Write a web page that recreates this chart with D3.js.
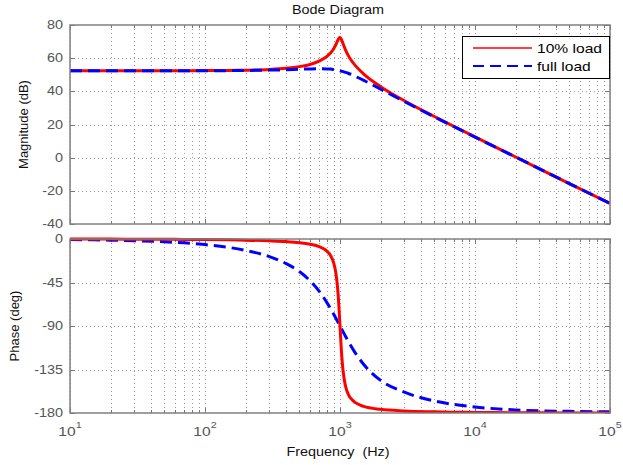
<!DOCTYPE html>
<html>
<head>
<meta charset="utf-8">
<script src="https://cdn.jsdelivr.net/npm/d3@7/dist/d3.min.js"></script>
<style>
  body { margin: 0; background: #fff; }
  text { font-family: "Liberation Sans", Arial, sans-serif; }
</style>
</head>
<body>
<div id="chart"></div>
<script>
var width = 623;
var height = 465;

// frequency points (Hz)
var freq = [10, 15, 20, 30, 50, 70, 100, 150, 200, 300, 400, 500, 600, 700, 800, 850, 900, 930, 960, 980,
            1000, 1020, 1040, 1070, 1100, 1150, 1200, 1300, 1500, 2000, 3000, 5000, 7000, 10000, 20000, 50000, 100000];

// magnitude (dB)
var mag10 = [52.4, 52.4, 52.4, 52.4, 52.4, 52.4, 52.5, 52.6, 52.75, 53.2, 53.9, 54.9, 56.2, 58.2, 61.1, 63.1, 65.9, 68.1, 70.5, 71.9,
             72.4, 71.6, 70.0, 67.3, 64.9, 61.7, 59.2, 55.5, 50.4, 42.8, 34.3, 24.8, 18.8, 12.5, 0.4, -15.6, -27.6];
var magFull = [52.4, 52.4, 52.4, 52.4, 52.4, 52.4, 52.4, 52.5, 52.6, 52.8, 53.0, 53.3, 53.5, 53.6, 53.5, 53.4, 53.1, 52.9, 52.7, 52.6,
               52.4, 52.2, 52.0, 51.7, 51.4, 50.9, 50.3, 49.0, 46.6, 41.3, 33.8, 24.6, 18.7, 12.4, 0.4, -15.6, -27.6];

// phase (deg)
var phase10 = [0, -0.1, -0.1, -0.2, -0.3, -0.4, -0.6, -0.9, -1.2, -1.9, -2.7, -3.8, -5.4, -7.8, -12.5, -17.0, -25.3, -34.5, -50.8, -68.0,
               -90, -111.6, -128.1, -143.6, -152.4, -160.4, -164.7, -169.3, -173.2, -176.2, -177.9, -178.8, -179.2, -179.4, -179.7, -179.9, -180];
var phaseFull = [-0.6, -0.9, -1.2, -1.7, -2.9, -4.0, -5.8, -8.7, -11.8, -18.2, -25.5, -33.7, -43.2, -53.9, -65.8, -71.9, -78.1, -81.7, -85.3, -87.7,
                 -90, -92.3, -94.5, -97.7, -100.8, -105.7, -110.1, -118.0, -129.8, -146.3, -158.5, -167.5, -171.2, -173.8, -176.8, -178.3, -178.8];

var magTicks = [-40, -20, 0, 20, 40, 60, 80];
var phaseTicks = [-180, -135, -90, -45, 0];
var decades = [1, 2, 3, 4, 5];
var seriesNames = ["10% load", "full load"];

var left = 70, right = 610;
var magTop = 25, magBottom = 224;
var phTop = 239, phBottom = 413;
var stretch = 1.2; // the picture's text is a bit wider than the font

var svg = d3.select("#chart").append("svg")
    .attr("width", width)
    .attr("height", height);

svg.append("rect").attr("width", width).attr("height", height).attr("fill", "#fff");

var x = d3.scaleLog().domain([10, 1e5]).range([left, right]);
var yMag = d3.scaleLinear().domain([-40, 80]).range([magBottom, magTop]);
var yPh = d3.scaleLinear().domain([-180, 0]).range([phBottom, phTop]);

// text helper, widened horizontally
function label(px, py, str, anchor, size, color) {
  return svg.append("text")
    .attr("transform", "translate(" + px + "," + py + ") scale(" + stretch + ",1)")
    .attr("text-anchor", anchor)
    .attr("font-size", size)
    .attr("fill", color)
    .attr("xml:space", "preserve")
    .text(str);
}

// all log tick positions (major + minor)
var xTicksAll = x.ticks(40);

function panel(y, yTicks, top, bottom) {
  var g = svg.append("g");
  g.append("rect").attr("x", left).attr("y", top)
    .attr("width", right - left).attr("height", bottom - top).attr("fill", "#fff");

  // dotted grid
  g.selectAll(".vg").data(xTicksAll).enter().append("line")
    .attr("x1", function(d) { return Math.round(x(d)) + 0.5; })
    .attr("x2", function(d) { return Math.round(x(d)) + 0.5; })
    .attr("y1", top).attr("y2", bottom)
    .attr("stroke", "#999").attr("stroke-width", 1).attr("stroke-dasharray", "1,3");
  g.selectAll(".hg").data(yTicks.slice(1, -1)).enter().append("line")
    .attr("x1", left).attr("x2", right)
    .attr("y1", function(d) { return Math.round(y(d)) + 0.5; })
    .attr("y2", function(d) { return Math.round(y(d)) + 0.5; })
    .attr("stroke", "#999").attr("stroke-width", 1).attr("stroke-dasharray", "1,3");

  // ticks on every side, pointing in
  xTicksAll.forEach(function(d) {
    var major = Math.abs(Math.log10(d) % 1) < 1e-9;
    var len = major ? 5 : 3;
    var xx = Math.round(x(d)) + 0.5;
    g.append("line").attr("x1", xx).attr("x2", xx).attr("y1", bottom).attr("y2", bottom - len)
      .attr("stroke", "#777");
    g.append("line").attr("x1", xx).attr("x2", xx).attr("y1", top).attr("y2", top + len)
      .attr("stroke", "#777");
  });
  yTicks.forEach(function(d) {
    var yy = Math.round(y(d)) + 0.5;
    g.append("line").attr("x1", left).attr("x2", left + 5).attr("y1", yy).attr("y2", yy).attr("stroke", "#777");
    g.append("line").attr("x1", right).attr("x2", right - 5).attr("y1", yy).attr("y2", yy).attr("stroke", "#777");
    label(left - 7, y(d) + 4, d, "end", 12, "#555");
  });
}

function frame(top, bottom) {
  svg.append("rect").attr("x", left).attr("y", top)
    .attr("width", right - left).attr("height", bottom - top)
    .attr("fill", "none").attr("stroke", "#808080").attr("stroke-width", 1.5);
}

panel(yMag, magTicks, magTop, magBottom);
panel(yPh, phaseTicks, phTop, phBottom);

// curves
var magLine = d3.line().curve(d3.curveMonotoneX)
    .x(function(d, i) { return x(freq[i]); }).y(function(d) { return yMag(d); });
var phLine = d3.line().curve(d3.curveMonotoneX)
    .x(function(d, i) { return x(freq[i]); }).y(function(d) { return yPh(d); });

svg.append("clipPath").attr("id", "cm").append("rect")
    .attr("x", left).attr("y", magTop).attr("width", right - left).attr("height", magBottom - magTop);
svg.append("clipPath").attr("id", "cp").append("rect")
    .attr("x", left).attr("y", phTop - 2).attr("width", right - left).attr("height", phBottom - phTop + 2);

var gm = svg.append("g").attr("clip-path", "url(#cm)");
gm.append("path").attr("d", magLine(mag10))
  .attr("fill", "none").attr("stroke", "#f00").attr("stroke-width", 3).attr("stroke-linejoin", "round");
gm.append("path").attr("d", magLine(magFull))
  .attr("fill", "none").attr("stroke", "#00f").attr("stroke-width", 3).attr("stroke-dasharray", "12,6");

var gp = svg.append("g").attr("clip-path", "url(#cp)");
gp.append("path").attr("d", phLine(phaseFull))
  .attr("fill", "none").attr("stroke", "#00f").attr("stroke-width", 3).attr("stroke-dasharray", "12,6");
gp.append("path").attr("d", phLine(phase10))
  .attr("fill", "none").attr("stroke", "#f00").attr("stroke-width", 3).attr("stroke-linejoin", "round");

frame(magTop, magBottom);
frame(phTop, phBottom);

// x tick labels 10^n
decades.forEach(function(d) {
  var t = label(x(Math.pow(10, d)), 436, "", "middle", 13, "#555");
  t.append("tspan").text("10");
  t.append("tspan").attr("dy", -8).attr("font-size", 9).text(d);
});

// titles
label(338, 14, "Bode Diagram", "middle", 12, "#111");
label(338, 456, "Frequency  (Hz)", "middle", 12, "#111");
svg.append("text").attr("transform", "translate(28," + ((magTop + magBottom) / 2) + ") rotate(-90)")
  .attr("text-anchor", "middle").attr("font-size", 13).attr("fill", "#111").text("Magnitude (dB)");
svg.append("text").attr("transform", "translate(19," + ((phTop + phBottom) / 2) + ") rotate(-90)")
  .attr("text-anchor", "middle").attr("font-size", 13).attr("fill", "#111").text("Phase (deg)");

// legend
var lg = svg.append("g");
lg.append("rect").attr("x", 462.5).attr("y", 36.5).attr("width", 147).attr("height", 42)
  .attr("fill", "#fff").attr("stroke", "#000").attr("stroke-width", 1);
lg.selectAll(".li").data(seriesNames).enter().append("line")
  .attr("x1", 473).attr("x2", 532)
  .attr("y1", function(d, i) { return 48 + i * 18; })
  .attr("y2", function(d, i) { return 48 + i * 18; })
  .attr("stroke", function(d, i) { return i === 0 ? "#f00" : "#00f"; })
  .attr("stroke-width", function(d, i) { return i === 0 ? 1.5 : 2; })
  .attr("stroke-dasharray", function(d, i) { return i === 0 ? null : "11,6"; });
seriesNames.forEach(function(d, i) {
  label(537, 53 + i * 18, d, "start", 13, "#000");
});
</script>
</body>
</html>
